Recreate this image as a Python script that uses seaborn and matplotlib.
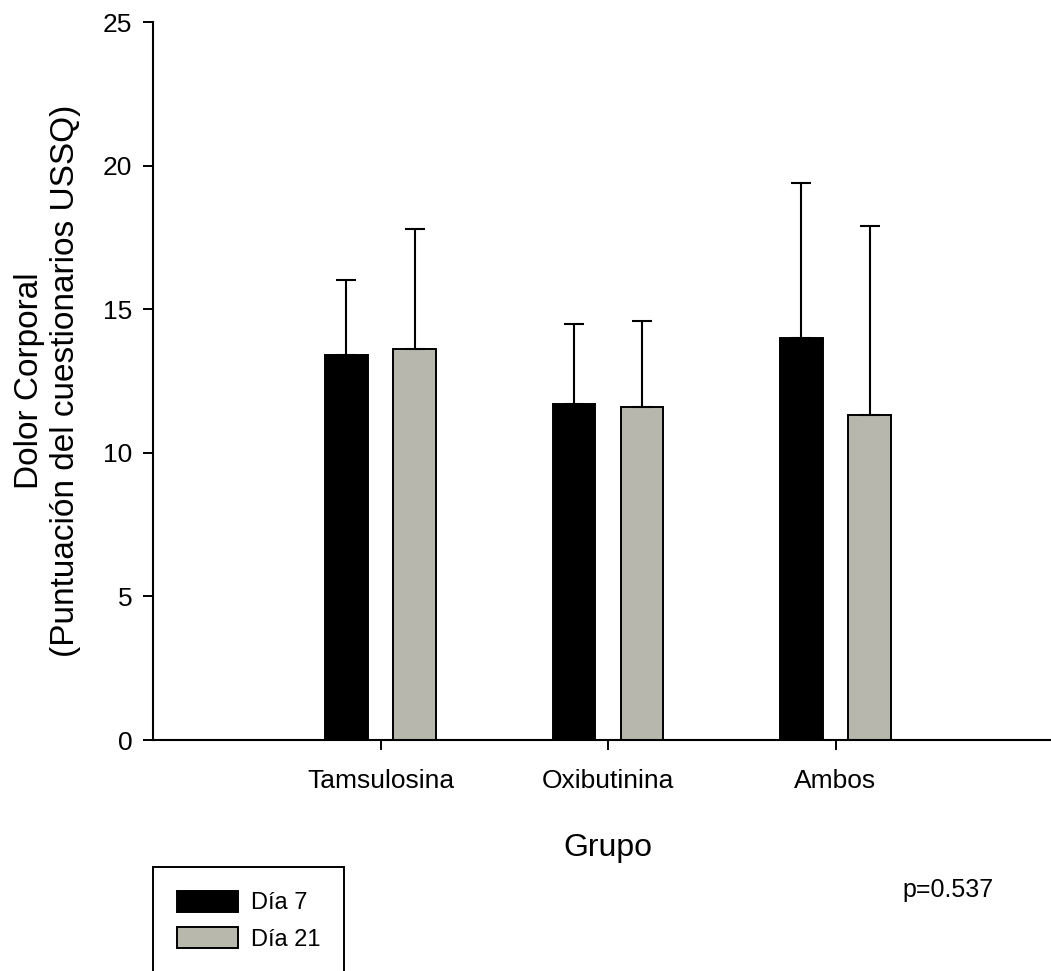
import pandas as pd
import matplotlib
matplotlib.use("Agg")
import matplotlib.pyplot as plt
from matplotlib.patches import Patch
import seaborn as sns

# Data
grupos = ["Tamsulosina", "Oxibutinina", "Ambos"]
dias = ["Día 7", "Día 21"]
media_dia7 = [13.4, 11.7, 14.0]
media_dia21 = [13.6, 11.6, 11.3]
de_dia7 = [2.6, 2.8, 5.4]
de_dia21 = [4.2, 3.0, 6.6]
colores = ["#000000", "#b8b8ac"]

df = pd.DataFrame({
    "grupo": grupos * 2,
    "dia": [dias[0]] * 3 + [dias[1]] * 3,
    "valor": media_dia7 + media_dia21,
})

sns.set_theme(style="ticks")
plt.rcParams["font.family"] = ["Liberation Sans", "DejaVu Sans"]
plt.rcParams["axes.edgecolor"] = "black"
plt.rcParams["text.color"] = "black"
plt.rcParams["axes.labelcolor"] = "black"

fig = plt.figure(figsize=(10.51, 9.71), dpi=100)
ax = fig.add_axes([153 / 1051, 1 - 740 / 971, 910 / 1051, 718 / 971])

sns.barplot(data=df, x="grupo", y="valor", hue="dia", order=grupos,
            hue_order=dias, palette=colores, errorbar=None,
            width=0.60, gap=0.38, edgecolor="black", linewidth=1.4,
            legend=False, ax=ax)

# upper error bars only
for cont, errs in zip(ax.containers, [de_dia7, de_dia21]):
    for bar, e in zip(cont, errs):
        xc = bar.get_x() + bar.get_width() / 2
        ax.errorbar(xc, bar.get_height(), yerr=[[0], [e]], fmt="none",
                    ecolor="black", elinewidth=1.5, capsize=7, capthick=1.5)

ax.set_xlim(-1, 3)
ax.set_ylim(0, 25)
ax.set_yticks([0, 5, 10, 15, 20, 25])
sns.despine(ax=ax)
for s in ["left", "bottom"]:
    ax.spines[s].set_linewidth(1.5)

ax.tick_params(axis="both", direction="out", length=7, width=1.4,
               color="black", labelsize=19, labelcolor="black")
ax.tick_params(axis="y", pad=8)
ax.tick_params(axis="x", pad=14)

ax.set_ylabel("Dolor Corporal\n(Puntuación del cuestionarios USSQ)",
              fontsize=24, labelpad=16)
ax.set_xlabel("Grupo", fontsize=23, labelpad=29)

handles = [Patch(facecolor=c, edgecolor="black", linewidth=1.4) for c in colores]
fig.legend(handles, dias, loc="upper left",
           bbox_to_anchor=(153 / 1051, 1 - 867 / 971), fontsize=17,
           frameon=True, fancybox=False, edgecolor="black", framealpha=1,
           handlelength=2.6, handleheight=1.0, handletextpad=0.55,
           labelspacing=0.55, borderpad=1.0, borderaxespad=0)
fig.legends[0].get_frame().set_linewidth(1.4)

fig.text(948 / 1051, 1 - 890 / 971, "p=0.537", fontsize=18,
         ha="center", va="center")

fig.savefig("out.png", dpi=100)
